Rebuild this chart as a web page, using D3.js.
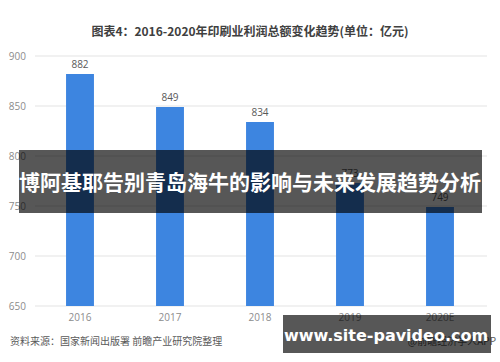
<!DOCTYPE html>
<html>
<head>
<meta charset="utf-8">
<script src="https://cdn.jsdelivr.net/npm/d3@7"></script>
<style>
  body { margin: 0; background: #fff; }
  svg { display: block; font-family: "Noto Sans CJK SC", "Noto Sans", sans-serif; }
</style>
</head>
<body>
<div id="chart"></div>
<script>
// chart data
let years = ["2016", "2017", "2018", "2019", "2020E"];
let profits = [882, 849, 834, 773, 749];
let yTicks = [650, 700, 750, 800, 850, 900];

let width = 500,
    height = 362;

let svg = d3.select("#chart")
    .append("svg")
    .attr("width", width)
    .attr("height", height);

// scales
let x = d3.scaleBand()
    .domain(years)
    .range([35, 485])
    .paddingInner(0.69)
    .paddingOuter(0.345);

let y = d3.scaleLinear()
    .domain([650, 900])
    .range([306, 56]);

// title
svg.append("text")
    .attr("x", 250)
    .attr("y", 36)
    .attr("text-anchor", "middle")
    .style("font-size", "12px")
    .style("font-weight", "bold")
    .style("fill", "#404040")
    .text("图表4：2016-2020年印刷业利润总额变化趋势(单位：亿元)");

// grid lines
svg.append("g")
    .selectAll("line")
    .data(yTicks)
    .enter()
    .append("line")
    .attr("x1", 35)
    .attr("x2", 487)
    .attr("y1", d => y(d))
    .attr("y2", d => y(d))
    .attr("stroke", "#e3e3e3")
    .attr("stroke-width", 1);

// y axis labels
let yAxis = svg.append("g")
    .attr("transform", "translate(26,0)")
    .call(d3.axisLeft(y).tickValues(yTicks).tickSize(0).tickPadding(0));
yAxis.select(".domain").remove();
yAxis.selectAll("text")
    .style("font-family", "'Open Sans', sans-serif")
    .style("font-size", "10px")
    .style("fill", "#8c8c8c");

// bars
svg.append("g")
    .selectAll("rect")
    .data(profits)
    .enter()
    .append("rect")
    .attr("x", (d, i) => x(years[i]))
    .attr("y", d => y(d))
    .attr("width", x.bandwidth())
    .attr("height", d => y(650) - y(d))
    .style("fill", "#3d85e0");

// value labels
svg.append("g")
    .selectAll("text")
    .data(profits)
    .enter()
    .append("text")
    .attr("x", (d, i) => x(years[i]) + x.bandwidth() / 2)
    .attr("y", d => y(d) - 6)
    .attr("text-anchor", "middle")
    .style("font-family", "'Open Sans', sans-serif")
    .style("font-size", "10px")
    .style("fill", "#595959")
    .text(d => d);

// x axis labels
let xAxis = svg.append("g")
    .attr("transform", "translate(0,310)")
    .call(d3.axisBottom(x).tickSize(0).tickPadding(4));
xAxis.select(".domain").remove();
xAxis.selectAll("text")
    .style("font-family", "'Open Sans', sans-serif")
    .style("font-size", "10px")
    .style("fill", "#8c8c8c");

// source note
svg.append("text")
    .attr("x", 10)
    .attr("y", 345)
    .style("font-size", "10px")
    .style("fill", "#595959")
    .text("资料来源：国家新闻出版署 前瞻产业研究院整理");

svg.append("text")
    .attr("x", 496)
    .attr("y", 345)
    .attr("text-anchor", "end")
    .style("font-size", "10px")
    .style("fill", "#595959")
    .text("@前瞻经济学人APP");

// overlay band with headline
svg.append("rect")
    .attr("x", 19)
    .attr("y", 150)
    .attr("width", 463)
    .attr("height", 63)
    .style("fill", "rgba(0,0,0,0.66)");

svg.append("text")
    .attr("x", 250)
    .attr("y", 190)
    .attr("text-anchor", "middle")
    .style("font-size", "21px")
    .style("font-weight", "bold")
    .style("fill", "#fff")
    .text("博阿基耶告别青岛海牛的影响与未来发展趋势分析");

// site box bottom right
svg.append("rect")
    .attr("x", 283)
    .attr("y", 315)
    .attr("width", 208)
    .attr("height", 38)
    .style("fill", "rgba(0,0,0,0.66)");

svg.append("text")
    .attr("x", 386)
    .attr("y", 341)
    .attr("text-anchor", "middle")
    .style("font-family", "'DejaVu Sans', sans-serif")
    .style("font-size", "16px")
    .style("font-weight", "bold")
    .style("fill", "#fff")
    .text("www.site-pavideo.com");
</script>
</body>
</html>
